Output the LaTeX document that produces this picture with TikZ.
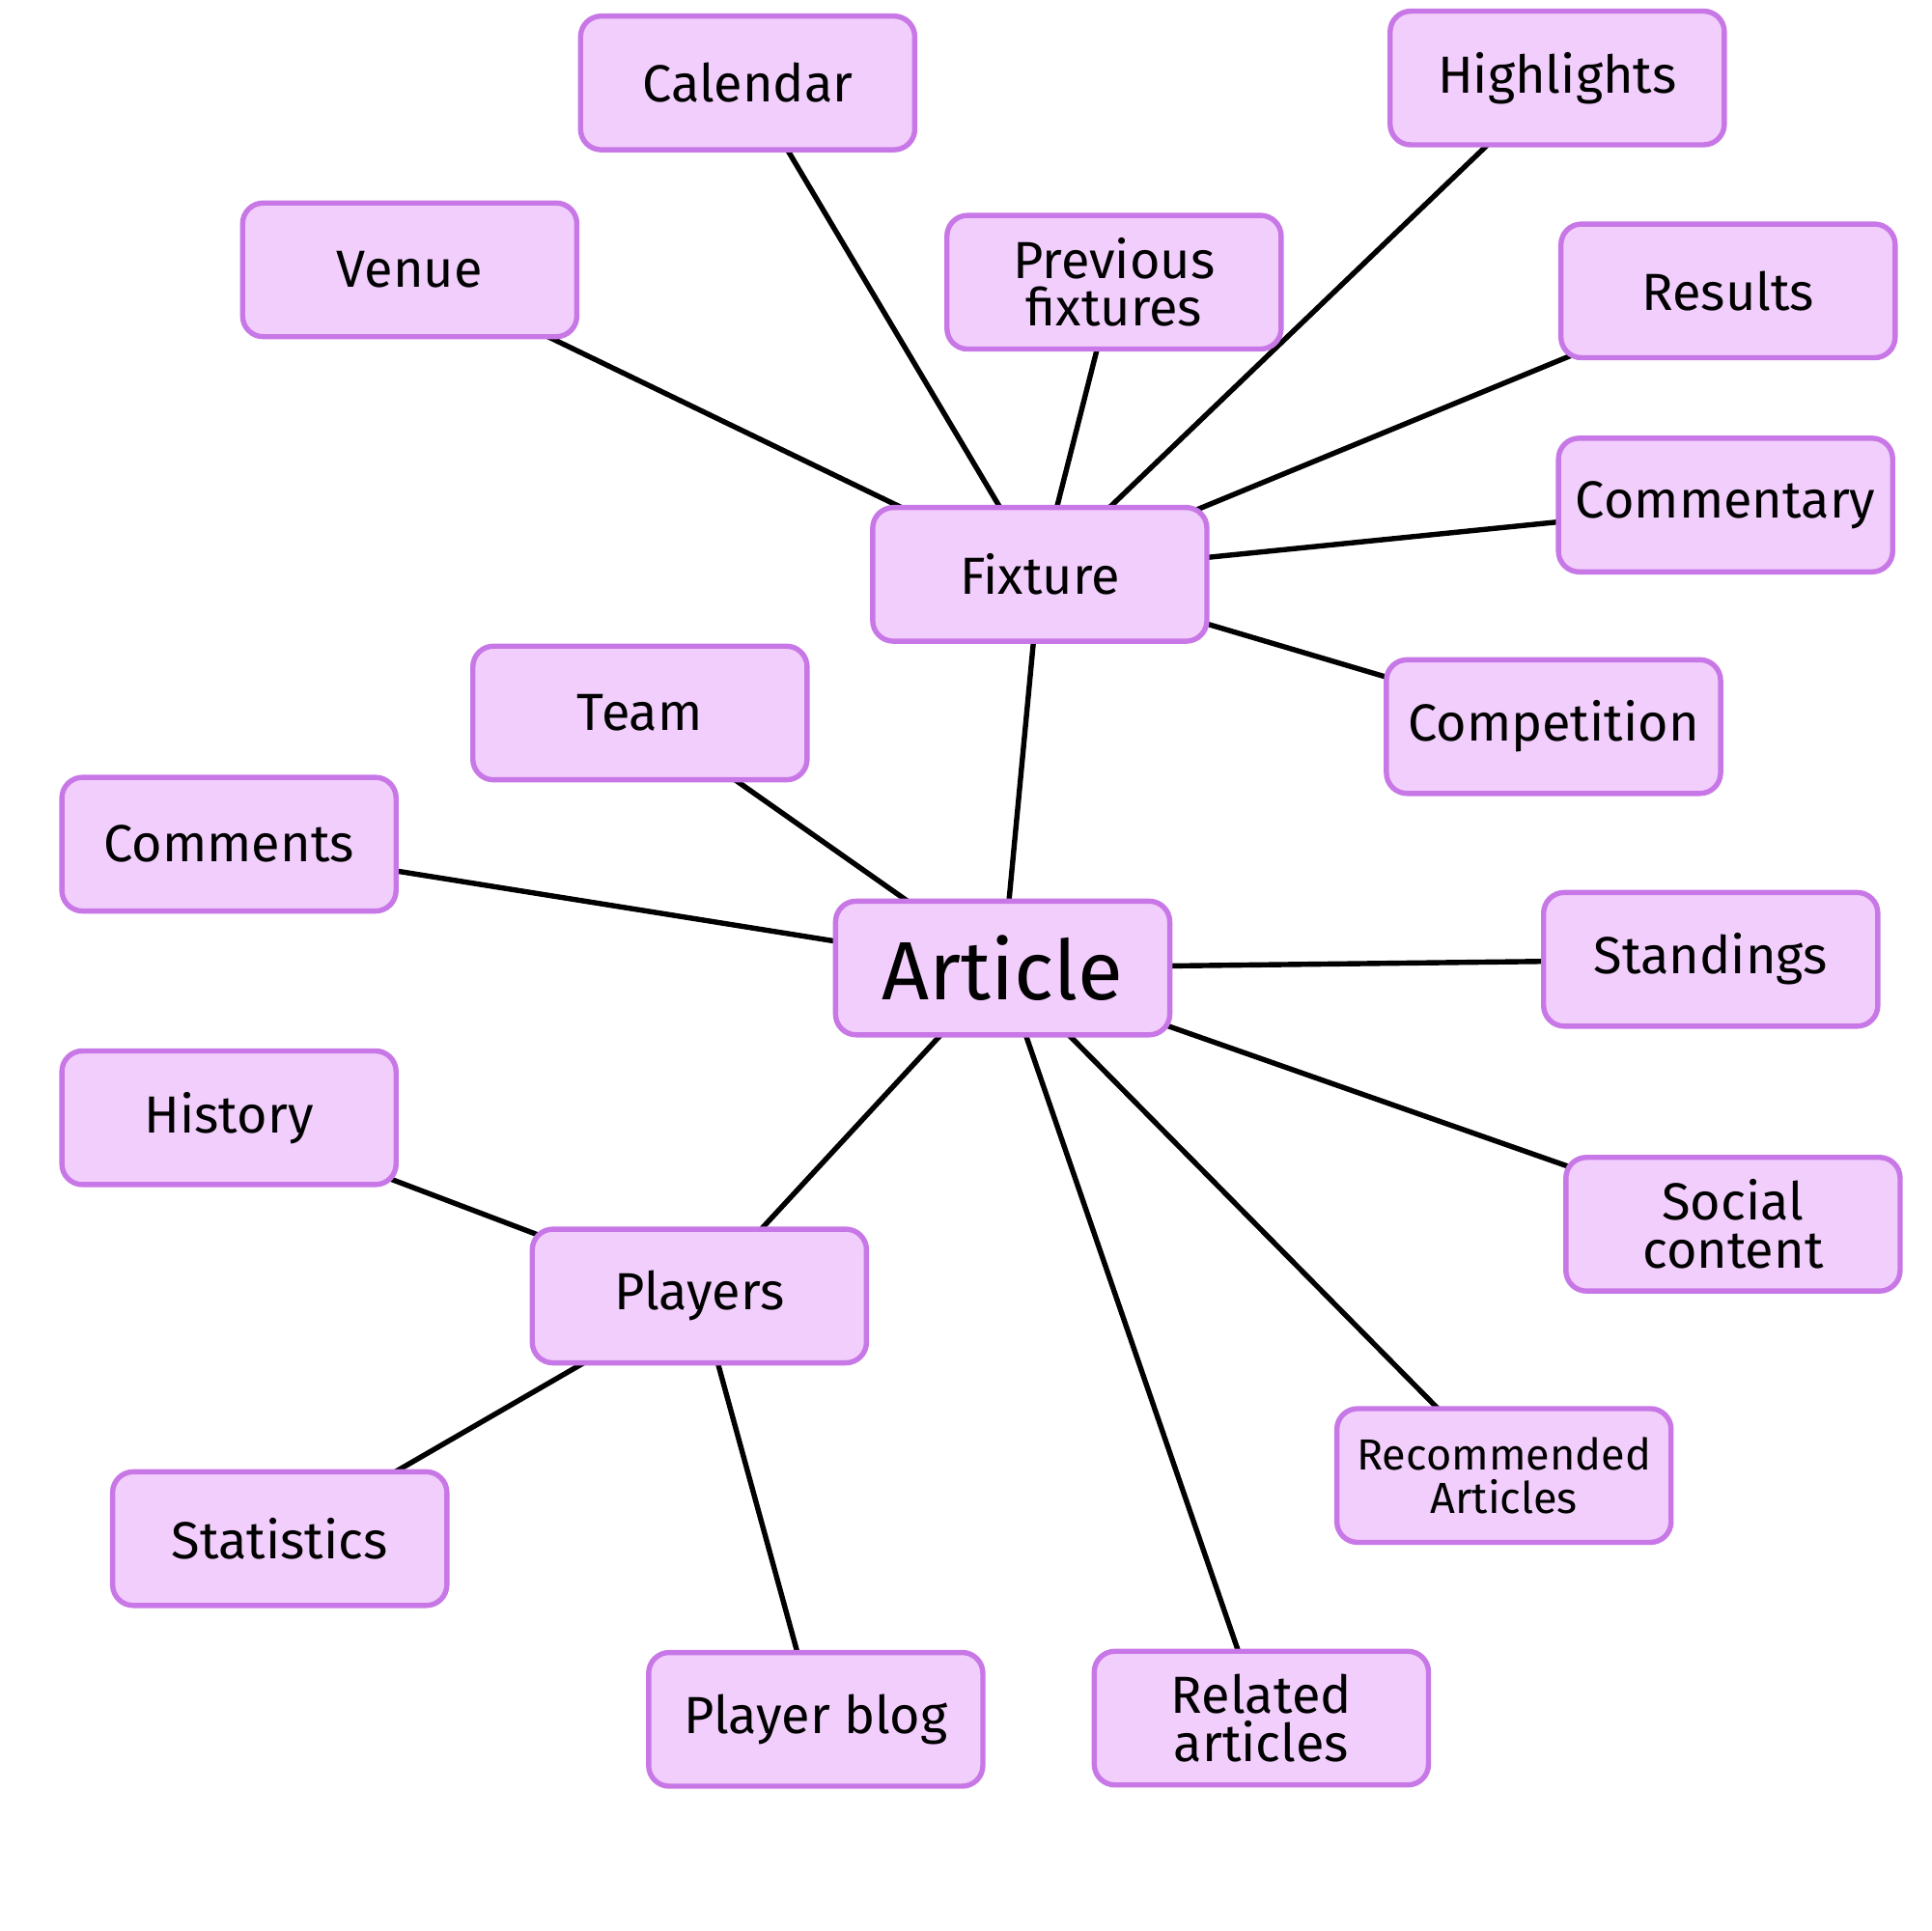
\documentclass[tikz,border=0pt]{standalone}
\usepackage{fontspec}
\setmainfont{Fira Sans}
\usetikzlibrary{backgrounds}
\definecolor{boxline}{RGB}{200,120,230}
\definecolor{boxlight}{RGB}{242,206,252}
\definecolor{boxdark}{RGB}{200,125,232}
\begin{document}
\begin{tikzpicture}[x=0.1mm, y=-0.1mm,
	  topic/.style={
	  	rectangle,
	  	draw=boxline,
	  	line width=1.2pt,
	  	top color=boxlight,
	  	middle color=boxdark,
	  	bottom color=boxlight,
	  	rounded corners=.9ex,
	  	align=center,
	  	minimum width=2.7cm,
	  	minimum height=1.08cm,
	  	font=\fontsize{12}{11}\selectfont,
	  	inner sep=1pt
	  },
	  link/.style={line width=1.2pt, black}]
	\useasboundingbox (0,0) rectangle (1560,1560);
	% Centre
	\node[topic, font=\fontsize{19}{20}\selectfont] (article) at (810,782) {Article};
	\node[topic] (fixture) at (840,464) {Fixture};
	\node[topic] (players) at (565,1047) {Players};
	% Fixture branch
	\node[topic] (calendar) at (604,67) {Calendar};
	\node[topic] (highlights) at (1258,63) {Highlights};
	\node[topic] (venue) at (331,218) {Venue};
	\node[topic] (previous) at (900,228) {Previous\\fixtures};
	\node[topic] (results) at (1396,235) {Results};
	\node[topic] (commentary) at (1394,408) {Commentary};
	\node[topic] (competition) at (1255,587) {Competition};
	% Article branch
	\node[topic] (team) at (517,576) {Team};
	\node[topic] (comments) at (185,682) {Comments};
	\node[topic] (standings) at (1382,775) {Standings};
	\node[topic] (social) at (1400,989) {Social\\content};
	\node[topic, font=\fontsize{10}{10}\selectfont] (recommended) at (1215,1192) {Recommended\\Articles};
	\node[topic] (related) at (1019,1388) {Related\\articles};
	% Players branch
	\node[topic] (history) at (185,903) {History};
	\node[topic] (statistics) at (226,1243) {Statistics};
	\node[topic] (blog) at (659,1389) {Player blog};
	\begin{scope}[on background layer]
		\foreach \leaf in {calendar, highlights, venue, previous, results, commentary, competition}
			\draw[link] (fixture.center) -- (\leaf.center);
		\foreach \leaf in {fixture, players, team, comments, standings, social, recommended, related}
			\draw[link] (article.center) -- (\leaf.center);
		\foreach \leaf in {history, statistics, blog}
			\draw[link] (players.center) -- (\leaf.center);
	\end{scope}
\end{tikzpicture}
\end{document}
